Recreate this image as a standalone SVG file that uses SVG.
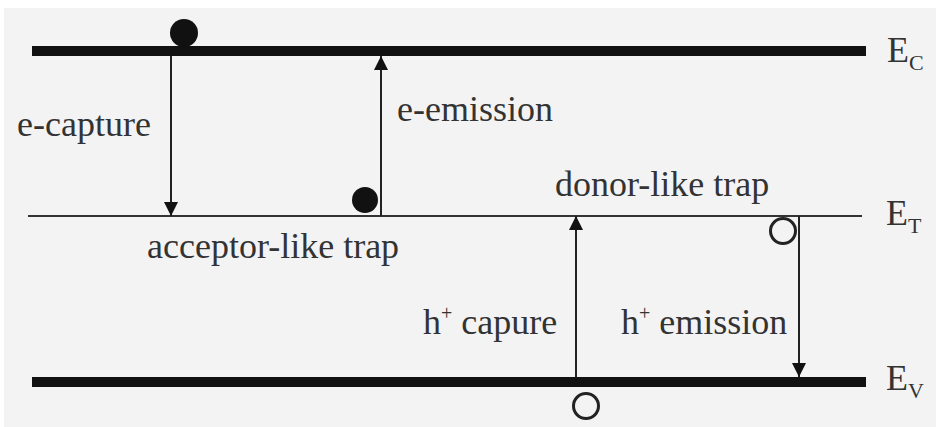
<svg xmlns="http://www.w3.org/2000/svg" width="936" height="427" viewBox="0 0 936 427">
<style>
.lbl{font-family:"Liberation Serif","Times New Roman",serif;font-size:36px;fill:#333}
.sup{font-family:"Liberation Serif","Times New Roman",serif;font-size:20px;fill:#333}
.sub{font-family:"Liberation Serif","Times New Roman",serif;font-size:22px;fill:#333}
.band{stroke:#111;stroke-width:10}
.thin{stroke:#333;stroke-width:2}
.arr{stroke:#222;stroke-width:2;fill:none}
</style>
<defs>
<marker id="ah2" viewBox="0 0 12 12" refX="12" refY="6" markerWidth="14" markerHeight="14" orient="auto" markerUnits="userSpaceOnUse">
<path d="M0,0 L12,6 L0,12 z" fill="#111"/>
</marker>
</defs>
<rect x="0" y="0" width="936" height="427" fill="#fff"/>
<rect x="4" y="8" width="932" height="419" fill="#f3f3f3"/>
<g id="bands">
<line id="Ec" class="band" x1="32" y1="51" x2="866" y2="51"/>
<line id="Et" class="thin" x1="28" y1="216" x2="862" y2="216"/>
<line id="Ev" class="band" x1="32" y1="382" x2="866" y2="382"/>
</g>
<g id="connectors">
<line class="arr" x1="171" y1="56" x2="171" y2="216" marker-end="url(#ah2)"/>
<line class="arr" x1="381" y1="216" x2="381" y2="56" marker-end="url(#ah2)"/>
<line class="arr" x1="576" y1="377" x2="576" y2="216" marker-end="url(#ah2)"/>
<line class="arr" x1="799" y1="216" x2="799" y2="377" marker-end="url(#ah2)"/>
</g>
<g id="electron-top"><circle cx="184" cy="33" r="14" fill="#111"/></g>
<g id="electron-trap"><circle cx="365" cy="200" r="13" fill="#111"/></g>
<g id="hole-trap"><circle cx="783" cy="231" r="12.5" fill="none" stroke="#222" stroke-width="3"/></g>
<g id="hole-bottom"><circle cx="586" cy="406" r="12.5" fill="none" stroke="#222" stroke-width="3"/></g>
<g id="labels">
<text class="lbl" x="17" y="136">e-capture</text>
<text class="lbl" x="397" y="121">e-emission</text>
<text class="lbl" x="555" y="196">donor-like trap</text>
<text class="lbl" x="147" y="258">acceptor-like trap</text>
<text class="lbl" x="423" y="334">h<tspan class="sup" dy="-14">+</tspan><tspan dy="14"> capure</tspan></text>
<text class="lbl" x="621" y="334">h<tspan class="sup" dy="-14">+</tspan><tspan dy="14"> emission</tspan></text>
<text class="lbl" x="887" y="62">E<tspan class="sub" dy="8">C</tspan></text>
<text class="lbl" x="886" y="225">E<tspan class="sub" dy="8">T</tspan></text>
<text class="lbl" x="886" y="390">E<tspan class="sub" dy="8">V</tspan></text>
</g>
</svg>
